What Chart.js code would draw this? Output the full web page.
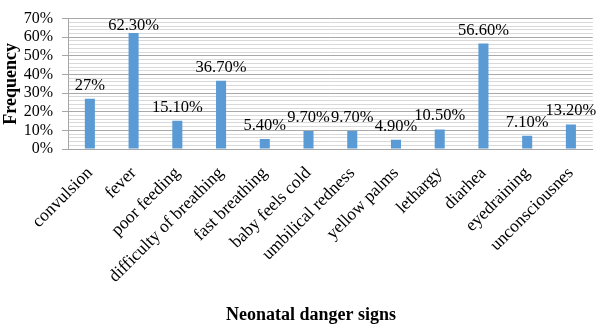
<!DOCTYPE html>
<html><head><meta charset="utf-8">
<script src="https://cdn.jsdelivr.net/npm/chart.js@4.4.1/dist/chart.umd.min.js"></script>
<style>html,body{margin:0;padding:0;background:#fff}#wrap{width:600px;height:328px}</style>
</head><body><div id="wrap"><canvas id="c" width="600" height="328"></canvas></div>
<script>
const categories = ['convulsion','fever','poor feeding','difficulty of breathing','fast breathing','baby feels cold','umbilical redness','yellow palms','lethargy','diarhea','eyedraining','unconsciousnes'];
const frequency = [27, 62.3, 15.1, 36.7, 5.4, 9.7, 9.7, 4.9, 10.5, 56.6, 7.1, 13.2];
const valueLabels = ['27%','62.30%','15.10%','36.70%','5.40%','9.70%','9.70%','4.90%','10.50%','56.60%','7.10%','13.20%'];
const yMin = 0, yMax = 70, yMajorStep = 10, yMinorStep = 2;
const xTitle = 'Neonatal danger signs';
const yTitle = 'Frequency';

const SERIF = '"Liberation Serif", "Times New Roman", serif';

const dataLabelPlugin = {
  id: 'dataLabels',
  afterDatasetsDraw(chart) {
    const ctx = chart.ctx;
    const meta = chart.getDatasetMeta(0);
    ctx.save();
    ctx.font = '16.5px ' + SERIF;
    ctx.fillStyle = '#000';
    ctx.textAlign = 'center';
    ctx.textBaseline = 'alphabetic';
    meta.data.forEach((bar, i) => {
      const y = Math.max(bar.y - 9, chart.chartArea.top + 11);
      ctx.fillText(valueLabels[i], bar.x, y);
    });
    ctx.restore();
  }
};

const xTitlePlugin = {
  id: 'xTitle',
  afterDraw(chart) {
    const ctx = chart.ctx;
    ctx.save();
    ctx.font = 'bold 18px ' + SERIF;
    ctx.fillStyle = '#000';
    ctx.textAlign = 'center';
    ctx.textBaseline = 'middle';
    ctx.fillText(xTitle, 311, 315);
    ctx.restore();
  }
};

new Chart(document.getElementById('c'), {
  type: 'bar',
  data: {
    labels: categories,
    datasets: [{
      data: frequency,
      backgroundColor: '#5B9BD5',
      borderWidth: 0,
      barPercentage: 0.23,
      categoryPercentage: 1
    }]
  },
  options: {
    responsive: false,
    animation: false,
    devicePixelRatio: 1,
    layout: { padding: { top: 8, right: 6, left: 0, bottom: 0 } },
    plugins: { legend: { display: false }, tooltip: { enabled: false } },
    scales: {
      x: {
        grid: { display: false, drawTicks: false },
        border: { display: true, color: '#a6a6a6' },
        ticks: {
          color: '#000',
          font: { family: SERIF, size: 17.5 },
          minRotation: 45, maxRotation: 45,
          autoSkip: false,
          padding: 14
        },
        afterFit(scale) { scale.height = 179; }
      },
      y: {
        min: yMin, max: yMax,
        grid: {
          color: ctx => (ctx.tick && ctx.tick.value % yMajorStep === 0) ? '#a9a9a9' : '#d9d9d9',
          tickColor: ctx => (ctx.tick && ctx.tick.value % yMajorStep === 0) ? '#a6a6a6' : 'rgba(0,0,0,0)',
          tickLength: 6
        },
        border: { display: true, color: '#a6a6a6' },
        ticks: {
          stepSize: yMinorStep,
          autoSkip: false,
          color: '#000',
          font: { family: SERIF, size: 16 },
          padding: 9,
          callback: v => (v % yMajorStep === 0 ? v + '%' : '')
        },
        title: {
          display: true,
          text: yTitle,
          color: '#000',
          font: { family: SERIF, size: 18, weight: 'bold' },
          padding: { top: 1, bottom: 0 }
        },
        afterFit(scale) { scale.width = 68; }
      }
    }
  },
  plugins: [dataLabelPlugin, xTitlePlugin]
});
</script></body></html>
